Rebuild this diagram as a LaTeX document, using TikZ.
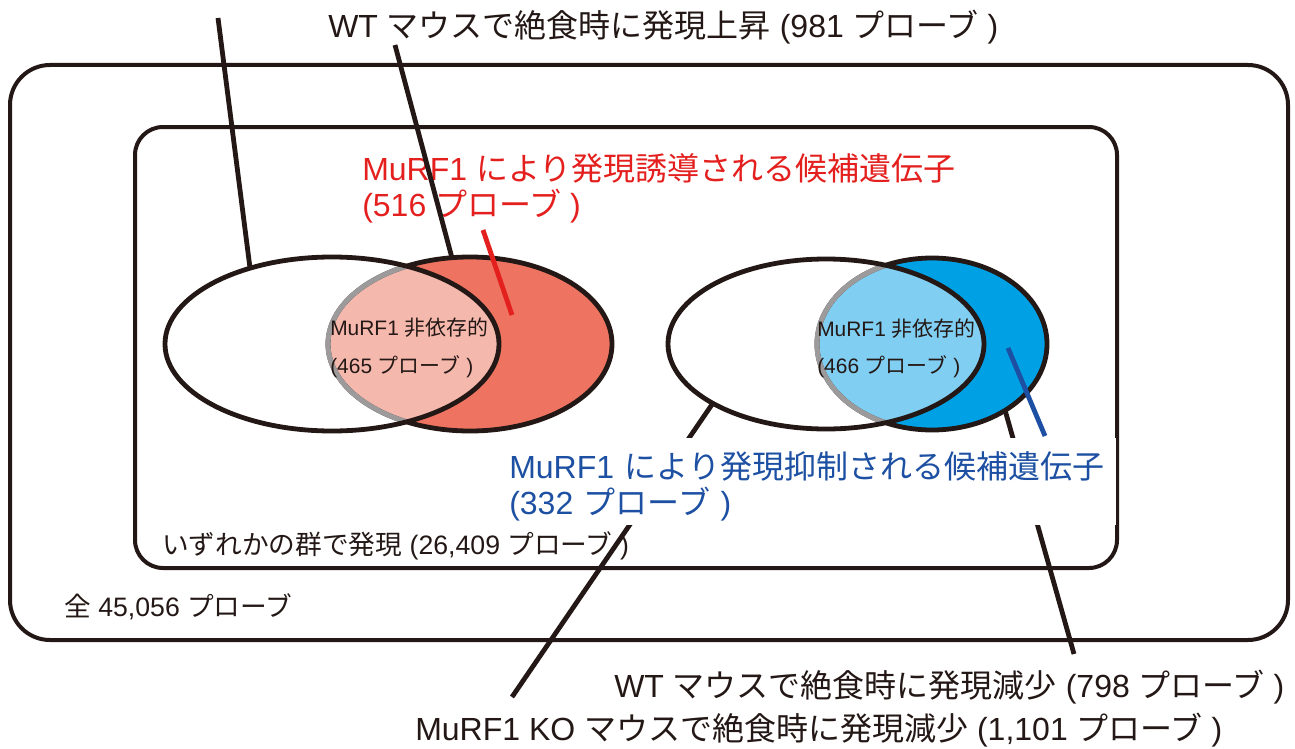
\documentclass[tikz,border=0pt]{standalone}
\usepackage{fontspec}
\setmainfont{Liberation Sans}
\newfontfamily\jpf{Noto Sans CJK JP}
\newcommand\J[1]{{\jpf #1}}
\definecolor{ink}{HTML}{231815}
\definecolor{redfill}{HTML}{EE7461}
\definecolor{pinkfill}{HTML}{F5B8AD}
\definecolor{bluefill}{HTML}{00A0E4}
\definecolor{lightblue}{HTML}{80CEF2}
\definecolor{arcgray}{HTML}{9C9A9A}
\definecolor{redtxt}{HTML}{E4201E}
\definecolor{bluetxt}{HTML}{1D50A2}
\begin{document}
\begin{tikzpicture}[x=0.75pt,y=-0.75pt,line join=round]
\tikzset{
  frame/.style={draw=ink,line width=3pt},
  ellline/.style={draw=ink,line width=3.6pt},
  grayline/.style={draw=arcgray,line width=3.8pt},
  conn/.style={draw=ink,line width=3.6pt},
  big/.style={font=\fontsize{24}{27}\selectfont,inner sep=0pt,anchor=base west,text=ink},
  mid/.style={font=\fontsize{20}{23}\selectfont,inner sep=0pt,anchor=base west,text=ink},
  small/.style={font=\fontsize{15.7}{19}\selectfont,inner sep=0pt,anchor=base west,text=ink},
}
\useasboundingbox (0,0) rectangle (1295,749);
\fill[white] (0,0) rectangle (1295,749);

% frames
\draw[frame,rounded corners=30pt] (10,65) rectangle (1288,640);
\draw[frame,rounded corners=21pt] (135,127) rectangle (1117,568);

% left pair
\fill[redfill] (470,344) ellipse [x radius=142, y radius=87];
\begin{scope}
  \clip (332,344) ellipse [x radius=167, y radius=87];
  \fill[pinkfill] (470,344) ellipse [x radius=142, y radius=87];
\end{scope}
\draw[ellline] (470,344) ellipse [x radius=142, y radius=87];
\begin{scope}
  \clip (332,344) ellipse [x radius=167, y radius=87];
  \draw[grayline] (470,344) ellipse [x radius=142, y radius=87];
\end{scope}
\draw[ellline] (332,344) ellipse [x radius=167, y radius=87];

% right pair
\fill[bluefill] (932,344) ellipse [x radius=115, y radius=86];
\begin{scope}
  \clip (826,344) ellipse [x radius=158, y radius=85];
  \fill[lightblue] (932,344) ellipse [x radius=115, y radius=86];
\end{scope}
\draw[ellline] (932,344) ellipse [x radius=115, y radius=86];
\begin{scope}
  \clip (826,344) ellipse [x radius=158, y radius=85];
  \draw[grayline] (932,344) ellipse [x radius=115, y radius=86];
\end{scope}
\draw[ellline] (826,344) ellipse [x radius=158, y radius=85];

% texts
\node (title) [big] at (328,38) {WT \J{マウスで絶食時に発現上昇} (981 \J{プローブ} )};
\node (red1) [big,text=redtxt] at (362,180) {MuRF1 \J{により発現誘導される候補遺伝子}};
\node (red2) [big,text=redtxt] at (362,216) {(516 \J{プローブ} )};
\node (inL1) [small] at (330,335) {MuRF1 \J{非依存的}};
\node (inL2) [small] at (330,373) {(465 \J{プローブ} )};
\node (inR1) [small] at (817,336) {MuRF1 \J{非依存的}};
\node (inR2) [small] at (817,373) {(466 \J{プローブ} )};
\node (any) [mid] at (162,554) {\J{いずれかの群で発現} (26,409 \J{プローブ} )};
\node (all) [mid] at (64,616) {\J{全} 45,056 \J{プローブ}};
\node (wtdown) [big] at (614,697) {WT \J{マウスで絶食時に発現減少} (798 \J{プローブ} )};
\node (kodown) [big] at (415,740) {MuRF1 KO \J{マウスで絶食時に発現減少} (1,101 \J{プローブ} )};

% connector end points
\coordinate (tlfree) at (218,18);
\coordinate (wlTop) at (250,268);
\coordinate (upfree) at (395,45);
\coordinate (rlTop) at (452,258);
\coordinate (redA) at (483,230);
\coordinate (redB) at (512,315);
\coordinate (wrBot) at (713,403);
\coordinate (kofree) at (512,697);
\coordinate (brBot) at (1005,410);
\coordinate (wtfree) at (1074,654);
\coordinate (blueA) at (1008,348);
\coordinate (blueB) at (1045,436);

\draw[conn] (tlfree) -- (wlTop);
\draw[conn] (upfree) -- (rlTop);
\draw[conn,draw=redtxt] (redA) -- (redB);
\draw[conn] (wrBot) -- (kofree);
\draw[conn] (brBot) -- (wtfree);
\draw[conn,draw=bluetxt] (blueA) -- (blueB);

% blue label (white knock-out box over the connectors)
\node (blue) [font=\fontsize{24}{27}\selectfont,text=bluetxt,fill=white,anchor=north west,
  align=left,text width=452pt,inner xsep=3pt,inner ysep=2pt] at (505,438)
  {\rule{0pt}{28pt}MuRF1 \J{により発現抑制される候補遺伝子}\\(332 \J{プローブ} )\rule[-6pt]{0pt}{6pt}};
\end{tikzpicture}
\end{document}
